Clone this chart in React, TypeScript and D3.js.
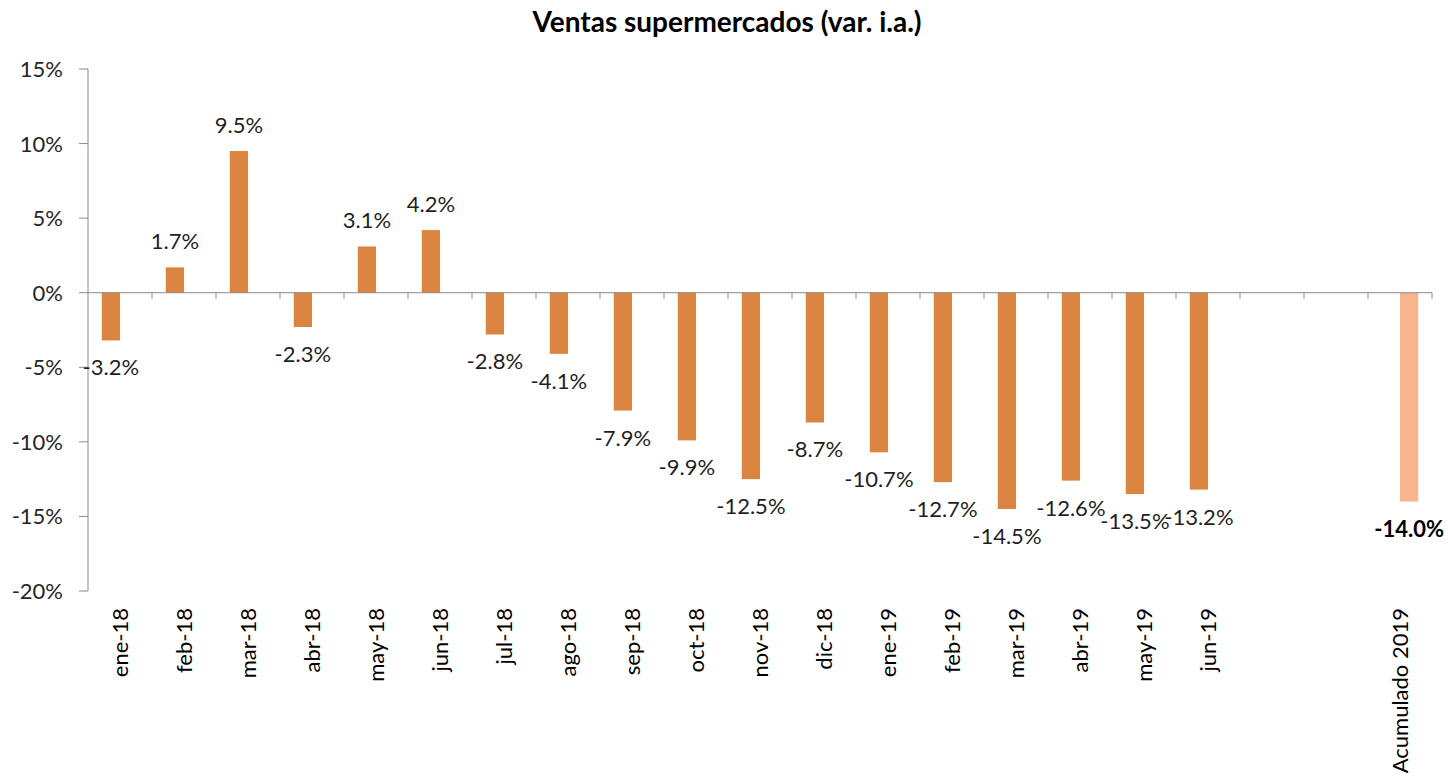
import React from "react";
import * as d3 from "d3";

const categories: string[] = [
  "ene-18", "feb-18", "mar-18", "abr-18", "may-18", "jun-18", "jul-18", "ago-18",
  "sep-18", "oct-18", "nov-18", "dic-18", "ene-19", "feb-19", "mar-19", "abr-19",
  "may-19", "jun-19", "_b1", "_b2", "Acumulado 2019",
];
const monthlyValues: (number | null)[] = [
  -3.2, 1.7, 9.5, -2.3, 3.1, 4.2, -2.8, -4.1, -7.9, -9.9, -12.5, -8.7,
  -10.7, -12.7, -14.5, -12.6, -13.5, -13.2, null, null, null,
];
const accumValues: (number | null)[] = [
  null, null, null, null, null, null, null, null, null, null, null, null,
  null, null, null, null, null, null, null, null, -14.0,
];
const yTicks: number[] = [15, 10, 5, 0, -5, -10, -15, -20];
const title = "Ventas supermercados (var. i.a.)";

const W = 1448;
const H = 780;
const FONT = "Lato, 'Open Sans', sans-serif";
const AXIS = "#8a8a8a";
const FS = 22;

export default function App() {
  const x = d3.scaleBand<string>().domain(categories).range([88, 1432]).padding(0);
  const y = d3.scaleLinear().domain([-20, 15]).range([591, 69]);
  const bw = x.bandwidth();
  const barW = bw * 0.285;
  const y0 = y(0);
  const fmt = (v: number) => v.toFixed(1) + "%";

  const labelY = (v: number) => (v >= 0 ? y(v) - 18 : y(v) + 35);

  return (
    <svg
      width={W}
      height={H}
      style={{ position: "absolute", left: 0, top: 0, background: "#fff" }}
      fontFamily={FONT}
    >
      <text x={727} y={32} textAnchor="middle" fontSize={28} fontWeight="bold" fill="#000">
        {title}
      </text>

      {/* y axis */}
      <line x1={88} x2={88} y1={y(15)} y2={y(-20)} stroke={AXIS} strokeWidth={1} />
      {yTicks.map((t) => (
        <g key={t}>
          <line x1={79} x2={88} y1={y(t)} y2={y(t)} stroke={AXIS} strokeWidth={1} />
          <text x={63} y={y(t) + 8} textAnchor="end" fontSize={FS} fill="#262626">
            {t + "%"}
          </text>
        </g>
      ))}

      {/* bars series 1 */}
      {categories.map((c, i) => {
        const v = monthlyValues[i];
        if (v === null) return null;
        const cx = (x(c) as number) + bw / 2;
        return (
          <rect
            key={"m" + c}
            x={cx - barW}
            width={barW}
            y={Math.min(y(v), y0)}
            height={Math.abs(y(v) - y0)}
            fill="#DB843F"
          />
        );
      })}
      {/* bars series 2 */}
      {categories.map((c, i) => {
        const v = accumValues[i];
        if (v === null) return null;
        const cx = (x(c) as number) + bw / 2;
        return (
          <rect
            key={"a" + c}
            x={cx}
            width={barW}
            y={Math.min(y(v), y0)}
            height={Math.abs(y(v) - y0)}
            fill="#F8B58E"
          />
        );
      })}

      {/* x axis */}
      <line x1={88} x2={1432} y1={y0} y2={y0} stroke={AXIS} strokeWidth={1} />
      {categories.map((c) => {
        const xe = (x(c) as number) + bw;
        return <line key={"t" + c} x1={xe} x2={xe} y1={y0} y2={y0 + 6} stroke={AXIS} strokeWidth={1} />;
      })}

      {/* data labels */}
      {categories.map((c, i) => {
        const v = monthlyValues[i];
        if (v === null) return null;
        const cx = (x(c) as number) + bw / 2 - barW / 2;
        return (
          <text key={"lm" + c} x={cx} y={labelY(v)} textAnchor="middle" fontSize={FS} fill="#1f1f1f">
            {fmt(v)}
          </text>
        );
      })}
      {categories.map((c, i) => {
        const v = accumValues[i];
        if (v === null) return null;
        const cx = (x(c) as number) + bw / 2 + barW / 2;
        return (
          <text key={"la" + c} x={cx} y={labelY(v)} textAnchor="middle" fontSize={FS} fontWeight="bold" fill="#000">
            {fmt(v)}
          </text>
        );
      })}

      {/* category labels */}
      {categories.map((c) => {
        if (c.startsWith("_")) return null;
        const cx = (x(c) as number) + bw / 2;
        return (
          <text
            key={"c" + c}
            transform={`translate(${cx + 8},608) rotate(-90)`}
            textAnchor="end"
            fontSize={FS}
            fill="#000"
          >
            {c}
          </text>
        );
      })}
    </svg>
  );
}
